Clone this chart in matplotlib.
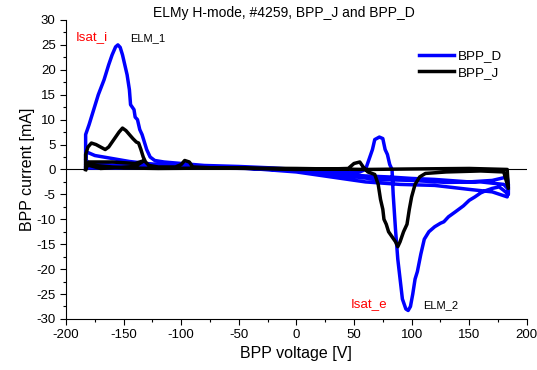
import matplotlib
matplotlib.use("Agg")
from matplotlib import pyplot as plt
from matplotlib.ticker import MultipleLocator

plt.rcParams['font.family'] = ['Liberation Sans', 'DejaVu Sans']
plt.rcParams['axes.unicode_minus'] = False

# BPP_D (blue) loop, voltage [V] and current [mA]
bpp_d_v = [-183, -183, -183, -180, -176, -172, -167, -163, -160, -157, -155, -153, -151, -149, -147,
           -145, -144, -141, -140, -138, -136, -134, -132, -130, -127, -123, -115, -100, -80, -50,
           -20, 0, 20, 40, 55, 60, 63, 66, 68, 72, 75, 77, 79, 81, 83, 84, 86, 88, 90, 92, 95, 97,
           99, 101, 103, 105, 108, 111, 115, 120, 125, 128, 132, 138, 145, 150, 155, 160, 165, 170,
           176, 180, 184, 184, 183, 170, 150, 120, 100, 80, 60, 40, 20, 0, -50, -100, -130, -160,
           -180, -183, -182, -175, -160, -145, -130, -110, -80, -40, 0, 30, 60, 90, 120, 150, 170,
           183, 184, 180, 160, 130, 100, 70, 40, 10, -30, -100, -183]
bpp_d_i = [0.3, 4, 7, 9, 12, 15, 18, 21, 23, 24.6, 25, 24.5, 23, 21, 19,
           16, 13, 12, 10.5, 10, 8, 7, 5.5, 4, 2.5, 1.8, 1.5, 1.2, 0.8, 0.6,
           0.3, 0, -0.3, -0.6, -0.5, 0, 2, 4, 6, 6.5, 6.2, 4, 3, 1, 0, -5, -12, -18, -22, -26, -28, -28.3,
           -27.5, -25, -22, -20.5, -17, -14, -12.5, -11.5, -10.8, -10.5, -9.5, -8.5, -7.3, -6.2, -5.5, -4.7, -4.2, -3.8,
           -3.5, -4.2, -5, -3, -1.5, -2.2, -2.5, -2, -1.8, -1.5, -1.3, -1, -0.6, -0.2, 0.3, 0.5, 0.6, 0.9,
           1.2, 2, 3.5, 2.8, 2.2, 1.6, 1.2, 0.8, 0.5, 0.2, -0.5, -1.5, -2.5, -3, -3.2, -4, -4.5,
           -5.5, -4, -3, -2.5, -2.6, -2.2, -2, -1.2, -0.3, 0.2, 0.3, 0.3]

# BPP_J (black) loop
bpp_j_v = [-183, -183, -181, -178, -174, -170, -166, -163, -160, -157, -154, -151, -148, -145, -142,
           -139, -137, -135, -133, -131, -128, -120, -105, -100, -97, -93, -90, -70, -40, 0, 30, 45,
           50, 55, 58, 62, 68, 71, 73, 75, 76, 78, 80, 83, 86, 88, 90, 93, 96, 98, 100, 103, 107,
           112, 130, 160, 180, 184, 183, 150, 100, 60, 0, -60, -120, -150, -175, -183, -170, -140,
           -132, -140, -160, -180, -183]
bpp_j_i = [0, 3, 4.5, 5.3, 5, 4.5, 4, 4.5, 5.5, 6.5, 7.5, 8.3, 7.8, 7, 6.2,
           5.5, 5.3, 4, 2.5, 1.5, 0.8, 0.5, 0.5, 1, 1.8, 1.5, 0.5, 0.3, 0.2, 0, 0.1, 0.2,
           1.2, 1.5, 0.5, -0.5, -1, -3, -6, -8, -10, -11, -12.5, -13.5, -14.5, -15.5, -14.5, -12.5, -11, -8, -5.5, -3, -1.5,
           -0.8, -0.5, -0.3, -0.5, -3.8, 0, 0.2, 0.1, 0, 0.2, 0.3, 0.2, 0.3, 0.8, 1, 0.2, 0.6,
           1.8, 1.2, 1.5, 1.5, 0]

fig = plt.figure(figsize=(5.37, 3.7), dpi=100)
ax = fig.add_axes([0.123, 0.138, 0.858, 0.808])

ax.axhline(0, color='black', lw=0.8, zorder=1)
ax.plot(bpp_d_v, bpp_d_i, color='#0000ff', lw=2.5, label='BPP_D', zorder=2)
ax.plot(bpp_j_v, bpp_j_i, color='black', lw=2.5, label='BPP_J', zorder=3)

ax.set_xlim(-200, 200)
ax.set_ylim(-30, 30)
ax.spines['top'].set_visible(False)
ax.spines['right'].set_visible(False)
ax.xaxis.set_major_locator(MultipleLocator(50))
ax.xaxis.set_minor_locator(MultipleLocator(25))
ax.yaxis.set_major_locator(MultipleLocator(5))
ax.yaxis.set_minor_locator(MultipleLocator(2.5))
ax.tick_params(which='both', direction='out', top=False, right=False, labelsize=9.5)
ax.tick_params(which='major', length=4, width=0.8)
ax.tick_params(which='minor', length=2.5, width=0.8)

ax.set_xlabel('BPP voltage [V]', fontsize=11.5, labelpad=3)
ax.set_ylabel('BPP current [mA]', fontsize=11.5, labelpad=1)
ax.set_title('ELMy H-mode, #4259, BPP_J and BPP_D', fontsize=10, pad=2, x=0.472)

ax.text(-192, 25.4, 'Isat_i', color='red', fontsize=9.6, va='bottom')
ax.text(-144, 25.4, 'ELM_1', color='black', fontsize=8, va='bottom')
ax.text(47, -28.2, 'Isat_e', color='red', fontsize=9.6, va='bottom')
ax.text(110, -28.2, 'ELM_2', color='black', fontsize=8, va='bottom')

ax.legend(loc='upper left', bbox_to_anchor=(0.74, 0.94), frameon=False, fontsize=9.6,
          handlelength=2.6, handletextpad=0.3, labelspacing=0.3)

fig.savefig('out.png', dpi=100)
